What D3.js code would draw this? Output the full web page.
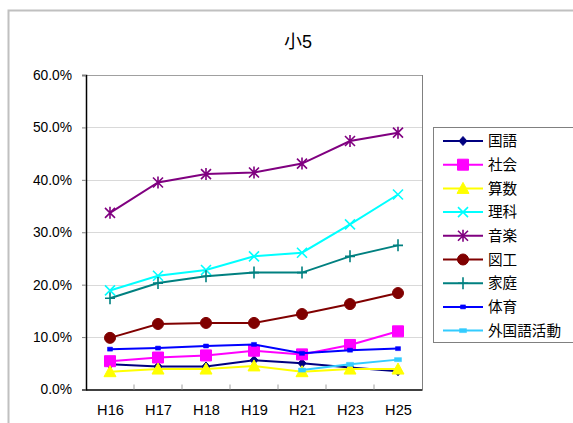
<!DOCTYPE html>
<html><head><meta charset="utf-8">
<script src="https://cdn.jsdelivr.net/npm/d3@7"></script>
<style>
html,body{margin:0;padding:0;background:#fff;}
text{font-family:"Liberation Sans","Noto Sans CJK JP",Arial,sans-serif;}
</style></head>
<body>
<script>
const years = ["H16","H17","H18","H19","H21","H23","H25"];
const yTicks = [0,0.1,0.2,0.3,0.4,0.5,0.6];
const title = "小5";
const seriesNames = ["国語","社会","算数","理科","音楽","図工","家庭","体育","外国語活動"];
const kokugo   = [4.8,4.4,4.4,5.6,5.0,4.2,3.5];
const shakai   = [5.4,6.1,6.5,7.4,6.7,8.5,11.1];
const sansu    = [3.4,3.9,3.9,4.5,3.4,3.9,3.9];
const rika     = [18.9,21.7,22.8,25.4,26.1,31.5,37.2];
const ongaku   = [33.7,39.5,41.1,41.4,43.1,47.4,49.0];
const zuko     = [9.85,12.5,12.7,12.7,14.4,16.3,18.4];
const katei    = [17.4,20.3,21.6,22.3,22.3,25.4,27.5];
const taiiku   = [7.7,7.9,8.3,8.6,6.9,7.5,7.8];
const gaikokugo= [null,null,null,null,3.7,4.8,5.7];
const seriesValues = [kokugo,shakai,sansu,rika,ongaku,zuko,katei,taiiku,gaikokugo];
const colors = ["#000080","#FF00FF","#FFFF00","#00FFFF","#800080","#800000","#008080","#0000FF","#33CCFF"];
const markers = ["diamond","square","triangle","x","asterisk","circle","plus","smallsq","rect"];

const W=573,H=423;
const svg=d3.select("body").append("svg").attr("width",W).attr("height",H);
svg.append("rect").attr("width",W).attr("height",H).attr("fill","#fff");
// outer border
svg.append("path").attr("d","M8.5,"+H+"V10.5H"+W).attr("fill","none").attr("stroke","#c0c0c0").attr("stroke-width",2);

const L=86,R=422,T=75,B=389.5;
const x=d3.scalePoint().domain(years).range([L,R]).padding(0.5);
const y=d3.scaleLinear().domain([0,0.6]).range([B,T]);

// gridlines
svg.append("g").selectAll("line").data(yTicks.slice(1)).join("line")
  .attr("x1",L).attr("x2",R).attr("y1",d=>Math.round(y(d))+0.5).attr("y2",d=>Math.round(y(d))+0.5)
  .attr("stroke","#d9d9d9").attr("stroke-width",1);
// right border
svg.append("line").attr("x1",R+0.5).attr("x2",R+0.5).attr("y1",T).attr("y2",B).attr("stroke","#808080");
svg.append("line").attr("x1",L).attr("x2",R).attr("y1",T+0.5).attr("y2",T+0.5).attr("stroke","#a0a0a0");

// y axis
const yAxis=d3.axisLeft(y).tickValues(yTicks).tickFormat(d3.format(".1%")).tickSize(4).tickPadding(10);
const gy=svg.append("g").attr("transform",`translate(${L},0)`).call(yAxis);
gy.select(".domain").attr("stroke","#000").attr("stroke-width",1.5);
gy.selectAll(".tick line").attr("stroke","#808080");
gy.selectAll("text").attr("font-size",13.8).attr("fill","#000");

// x axis
const step=x.step();
const gx=svg.append("g").attr("transform",`translate(0,${B})`).call(d3.axisBottom(x).tickSize(0).tickPadding(15));
gx.select(".domain").attr("stroke","#000").attr("stroke-width",1.5);
gx.selectAll("text").attr("font-size",14.6).attr("fill","#000");
// boundary ticks inside
svg.append("g").selectAll("line").data(years.slice(1)).join("line")
  .attr("x1",d=>x(d)-step/2).attr("x2",d=>x(d)-step/2).attr("y1",B-5).attr("y2",B)
  .attr("stroke","#a0a0a0");

// title
svg.append("text").attr("x",298).attr("y",48).attr("text-anchor","middle").attr("font-size",18).text(title);

function markerPath(type,s){
  const p=d3.path();
  switch(type){
    case "diamond": p.moveTo(0,-4.5);p.lineTo(4,0);p.lineTo(0,4.5);p.lineTo(-4,0);p.closePath();break;
    case "square": p.rect(-5.5,-5.5,11,11);break;
    case "triangle": p.moveTo(0,-6);p.lineTo(6,5);p.lineTo(-6,5);p.closePath();break;
    case "circle": p.arc(0,0,5.5,0,2*Math.PI);break;
    case "smallsq": p.rect(-2.5,-2,5,4);break;
    case "rect": p.rect(-3.5,-2,7,4);break;
    case "x": p.moveTo(-5,-5);p.lineTo(5,5);p.moveTo(5,-5);p.lineTo(-5,5);break;
    case "asterisk": p.moveTo(-5,-5);p.lineTo(5,5);p.moveTo(5,-5);p.lineTo(-5,5);p.moveTo(0,-6);p.lineTo(0,6);break;
    case "plus": p.moveTo(-5,0);p.lineTo(5,0);p.moveTo(0,-6);p.lineTo(0,6);break;
  }
  return p.toString();
}
const stroked={x:true,asterisk:true,plus:true};

function drawMarker(g,type,color){
  const path=g.append("path").attr("d",markerPath(type));
  if(stroked[type]) path.attr("fill","none").attr("stroke",color).attr("stroke-width",1.6);
  else path.attr("fill",color).attr("stroke",color).attr("stroke-width",type==="smallsq"||type==="rect"?0.5:1);
}

const line=d3.line().defined(d=>d.v!=null).x(d=>x(d.k)).y(d=>y(d.v/100));
seriesValues.forEach((vals,i)=>{
  const data=years.map((k,j)=>({k,v:vals[j]}));
  const g=svg.append("g");
  g.append("path").datum(data).attr("d",line).attr("fill","none").attr("stroke",colors[i]).attr("stroke-width",2);
  data.filter(d=>d.v!=null).forEach(d=>{
    const mg=g.append("g").attr("transform",`translate(${x(d.k)},${y(d.v/100)})`);
    drawMarker(mg,markers[i],colors[i]);
  });
});

// legend
const lg=svg.append("g");
lg.append("rect").attr("x",433.5).attr("y",127.5).attr("width",160).attr("height",215).attr("fill","#fff").attr("stroke","#808080");
seriesNames.forEach((n,i)=>{
  const yy=141+i*23.7;
  const g=lg.append("g").attr("transform",`translate(0,${yy})`);
  g.append("line").attr("x1",443).attr("x2",483).attr("stroke",colors[i]).attr("stroke-width",2);
  const mg=g.append("g").attr("transform","translate(463,0)");
  drawMarker(mg,markers[i],colors[i]);
  g.append("text").attr("x",488).attr("y",0).attr("dy","0.36em").attr("font-size",14.6).text(n);
});
</script>
</body></html>
